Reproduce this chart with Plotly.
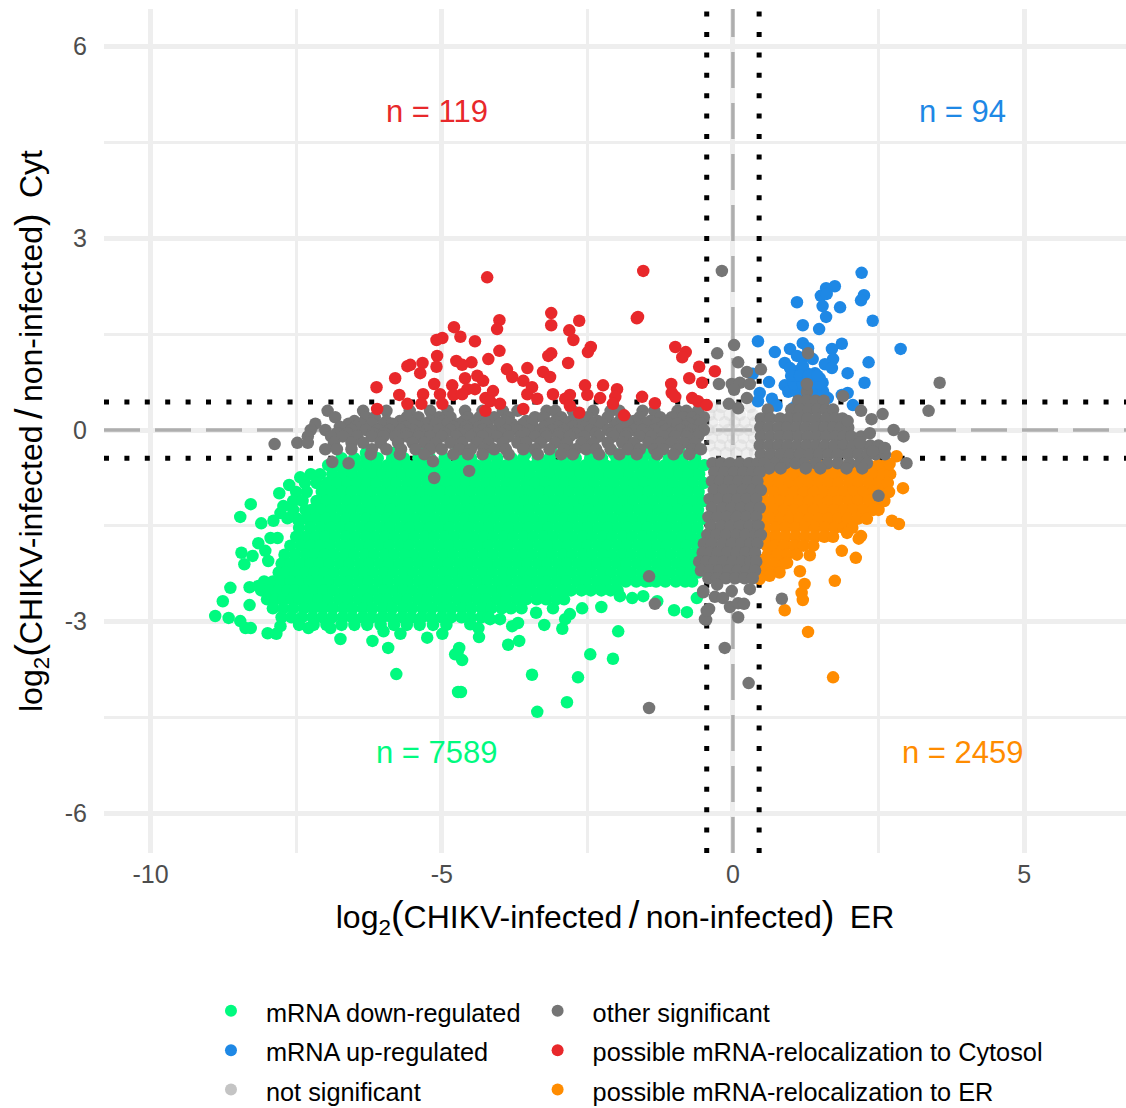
import plotly.graph_objects as go

green_rows = [
(-0.36,[-6.30,-5.85,-5.30,-4.75,-4.20,-3.55,-3.10,-2.45,-2.05,-1.50,-0.90]),
(-0.44,[-6.72,-6.50,-6.30,-6.10,-5.85,-5.65,-5.40,-5.20,-4.95,-4.70,-4.50,-4.25,-4.05,-3.80,-3.60,-3.35,-3.15,-2.90,-2.70,-2.45,-2.25,-2.00,-1.80,-1.55,-1.35,-1.10,-0.90,-0.65]),
(-0.55,[-6.95,-6.79,-6.61,-6.45,-6.27,-6.11,-5.93,-5.77,-5.59,-5.43,-5.25,-5.09,-4.91,-4.75,-4.57,-4.41,-4.23,-4.07,-3.89,-3.73,-3.55,-3.39,-3.21,-3.05,-2.87,-2.71,-2.53,-2.37,-2.19,-2.03,-1.85,-1.69,-1.51,-1.35,-1.17,-1.01,-0.83,-0.67,-0.49]),
(-0.69,[-7.25,-7.09,-6.88,-6.70,-6.54,-6.36,-6.20,-6.02,-5.86,-5.68,-5.52,-5.34,-5.18,-5.00,-4.84,-4.66,-4.50,-4.32,-4.16,-3.98,-3.82,-3.64,-3.48,-3.30,-3.14,-2.96,-2.80,-2.62,-2.46,-2.28,-2.12,-1.94,-1.78,-1.60,-1.44,-1.26,-1.10,-0.92,-0.76,-0.58]),
(-0.83,[-7.35,-7.15,-6.97,-6.80,-6.62,-6.46,-6.28,-6.12,-5.94,-5.78,-5.60,-5.44,-5.26,-5.10,-4.92,-4.76,-4.58,-4.42,-4.24,-4.08,-3.90,-3.74,-3.56,-3.40,-3.22,-3.06,-2.88,-2.72,-2.54,-2.38,-2.20,-2.04,-1.86,-1.70,-1.52,-1.36,-1.18,-1.02,-0.84,-0.68,-0.50]),
(-0.97,[-7.50,-7.32,-7.06,-6.89,-6.71,-6.55,-6.37,-6.21,-6.03,-5.87,-5.69,-5.53,-5.35,-5.19,-5.01,-4.85,-4.67,-4.51,-4.33,-4.17,-3.99,-3.83,-3.65,-3.49,-3.31,-3.15,-2.97,-2.81,-2.63,-2.47,-2.29,-2.13,-1.95,-1.79,-1.61,-1.45,-1.27,-1.11,-0.93,-0.77,-0.59]),
(-1.11,[-7.55,-7.39,-7.15,-6.98,-6.81,-6.63,-6.47,-6.29,-6.13,-5.95,-5.79,-5.61,-5.45,-5.27,-5.11,-4.93,-4.77,-4.59,-4.43,-4.25,-4.09,-3.91,-3.75,-3.57,-3.41,-3.23,-3.07,-2.89,-2.73,-2.55,-2.39,-2.21,-2.05,-1.87,-1.71,-1.53,-1.37,-1.19,-1.03,-0.85,-0.69,-0.51]),
(-1.25,[-7.55,-7.34,-7.24,-7.07,-6.90,-6.72,-6.56,-6.38,-6.22,-6.04,-5.88,-5.70,-5.54,-5.36,-5.20,-5.02,-4.86,-4.68,-4.52,-4.34,-4.18,-4.00,-3.84,-3.66,-3.50,-3.32,-3.16,-2.98,-2.82,-2.64,-2.48,-2.30,-2.14,-1.96,-1.80,-1.62,-1.46,-1.28,-1.12,-0.94,-0.78,-0.60]),
(-1.39,[-7.48,-7.32,-7.16,-6.99,-6.82,-6.64,-6.48,-6.30,-6.14,-5.96,-5.80,-5.62,-5.46,-5.28,-5.12,-4.94,-4.78,-4.60,-4.44,-4.26,-4.10,-3.92,-3.76,-3.58,-3.42,-3.24,-3.08,-2.90,-2.74,-2.56,-2.40,-2.22,-2.06,-1.88,-1.72,-1.54,-1.38,-1.20,-1.04,-0.86,-0.70,-0.52]),
(-1.53,[-7.45,-7.26,-7.08,-6.91,-6.73,-6.57,-6.39,-6.23,-6.05,-5.89,-5.71,-5.55,-5.37,-5.21,-5.03,-4.87,-4.69,-4.53,-4.35,-4.19,-4.01,-3.85,-3.67,-3.51,-3.33,-3.17,-2.99,-2.83,-2.65,-2.49,-2.31,-2.15,-1.97,-1.81,-1.63,-1.47,-1.29,-1.13,-0.95,-0.79,-0.61]),
(-1.67,[-7.50,-7.33,-7.17,-7.00,-6.83,-6.65,-6.49,-6.31,-6.15,-5.97,-5.81,-5.63,-5.47,-5.29,-5.13,-4.95,-4.79,-4.61,-4.45,-4.27,-4.11,-3.93,-3.77,-3.59,-3.43,-3.25,-3.09,-2.91,-2.75,-2.57,-2.41,-2.23,-2.07,-1.89,-1.73,-1.55,-1.39,-1.21,-1.05,-0.87,-0.71,-0.53]),
(-1.81,[-7.60,-7.42,-7.25,-7.09,-6.92,-6.74,-6.58,-6.40,-6.24,-6.06,-5.90,-5.72,-5.56,-5.38,-5.22,-5.04,-4.88,-4.70,-4.54,-4.36,-4.20,-4.02,-3.86,-3.68,-3.52,-3.34,-3.18,-3.00,-2.84,-2.66,-2.50,-2.32,-2.16,-1.98,-1.82,-1.64,-1.48,-1.30,-1.14,-0.96,-0.80,-0.62]),
(-1.95,[-7.70,-7.52,-7.34,-7.18,-7.01,-6.84,-6.66,-6.50,-6.32,-6.16,-5.98,-5.82,-5.64,-5.48,-5.30,-5.14,-4.96,-4.80,-4.62,-4.46,-4.28,-4.12,-3.94,-3.78,-3.60,-3.44,-3.26,-3.10,-2.92,-2.76,-2.58,-2.42,-2.24,-2.08,-1.90,-1.74,-1.56,-1.40,-1.22,-1.06,-0.88,-0.72,-0.54]),
(-2.09,[-7.75,-7.60,-7.43,-7.26,-7.10,-6.93,-6.75,-6.59,-6.41,-6.25,-6.07,-5.91,-5.73,-5.57,-5.39,-5.23,-5.05,-4.89,-4.71,-4.55,-4.37,-4.21,-4.03,-3.87,-3.69,-3.53,-3.35,-3.19,-3.01,-2.85,-2.67,-2.51,-2.33,-2.17,-1.99,-1.83,-1.65,-1.49,-1.31,-1.15,-0.97,-0.81,-0.63]),
(-2.23,[-7.80,-7.68,-7.51,-7.35,-7.19,-7.02,-6.85,-6.67,-6.51,-6.33,-6.17,-5.99,-5.83,-5.65,-5.49,-5.31,-5.15,-4.97,-4.81,-4.63,-4.47,-4.29,-4.13,-3.95,-3.79,-3.61,-3.45,-3.27,-3.11,-2.93,-2.77,-2.59,-2.43,-2.25,-2.09,-1.91,-1.75,-1.57,-1.41,-1.23,-1.07,-0.89,-0.73,-0.60]),
(-2.37,[-8.05,-7.90,-7.76,-7.60,-7.44,-7.27,-7.11,-6.94,-6.76,-6.60,-6.42,-6.26,-6.08,-5.92,-5.74,-5.58,-5.40,-5.24,-5.06,-4.90,-4.72,-4.56,-4.38,-4.22,-4.04,-3.88,-3.70,-3.54,-3.36,-3.20,-3.02,-2.86,-2.68,-2.52,-2.34,-2.18,-2.00,-1.84,-1.66,-1.50,-1.32,-1.16,-0.98,-0.82,-0.70]),
(-2.51,[-8.10,-7.95,-7.80,-7.65,-7.52,-7.36,-7.20,-7.03,-6.86,-6.68,-6.52,-6.34,-6.18,-6.00,-5.84,-5.66,-5.50,-5.32,-5.16,-4.98,-4.82,-4.64,-4.48,-4.30,-4.14,-3.96,-3.80,-3.62,-3.46,-3.28,-3.12,-2.94,-2.78,-2.60,-2.44,-2.26,-2.10,-1.98]),
(-2.65,[-8.00,-7.85,-7.72,-7.58,-7.45,-7.28,-7.12,-6.95,-6.77,-6.61,-6.43,-6.27,-6.09,-5.93,-5.75,-5.59,-5.41,-5.25,-5.07,-4.91,-4.73,-4.57,-4.39,-4.23,-4.05,-3.89,-3.71,-3.55,-3.37,-3.21,-3.03,-2.90]),
(-2.79,[-7.90,-7.72,-7.55,-7.37,-7.21,-7.04,-6.87,-6.69,-6.53,-6.35,-6.19,-6.01,-5.85,-5.67,-5.51,-5.33,-5.17,-4.99,-4.83,-4.65,-4.49,-4.31,-4.15,-3.97,-3.81,-3.63]),
(-2.93,[-7.75,-7.58,-7.40,-7.22,-7.05,-6.88,-6.70,-6.54,-6.36,-6.20,-6.02,-5.86,-5.68,-5.52,-5.34,-5.18,-5.00,-4.84,-4.66,-4.50,-4.32,-4.20]),
(-3.05,[-7.45,-7.20,-6.98,-6.72,-6.50,-6.28,-6.05,-5.82,-5.60,-5.38,-5.15,-4.92]),
]
green_x = [-8.28,-8.46,-8.10,-7.89,-7.79,-7.62,-7.43,-7.72,-7.77,-7.65,-7.94,-7.82,-8.15,-8.44,-8.25,-8.39,-8.03,-7.98,-8.63,-8.76,-8.30,-8.89,-8.66,-8.46,-8.37,-8.28,-8.30,-8.15,-7.99,-7.84,-7.77,-7.29,-6.74,-6.91,-6.19,-5.92,-5.78,-6.00,-5.71,-5.25,-4.99,-4.73,-4.72,-4.70,-4.77,-4.65,-4.67,-4.36,-3.86,-3.67,-3.45,-3.36,-2.85,-2.66,-2.45,-2.06,-1.97,-3.24,-2.93,-3.79,-3.69,-3.38,-2.88,-2.80,-2.59,-2.26,-3.09,-4.37,-4.51,-1.42,-1.30,-1.01,-0.79,-0.62,-1.94,-1.73,-1.54,-4.00,-4.17]
green_y = [-1.16,-1.36,-1.46,-1.42,-0.99,-0.86,-0.74,-1.19,-1.30,-1.38,-1.69,-1.69,-1.77,-1.92,-1.97,-2.10,-1.89,-2.05,-2.47,-2.68,-2.74,-2.91,-2.94,-2.99,-3.10,-3.10,-2.46,-2.44,-3.18,-3.19,-3.07,-3.10,-3.27,-3.10,-3.30,-3.41,-3.82,-3.15,-3.19,-3.25,-3.19,-3.49,-4.10,-3.41,-3.51,-3.60,-4.10,-3.24,-3.36,-3.30,-3.83,-4.41,-4.26,-3.87,-3.51,-3.58,-3.15,-3.05,-3.11,-3.07,-3.02,-2.86,-2.96,-2.88,-2.79,-2.77,-2.79,-3.10,-3.04,-2.36,-2.68,-2.82,-2.85,-2.63,-2.60,-2.63,-2.60,-2.96,-2.96]

orange_rows = [
(-0.41,[2.81]),
(-0.55,[0.46,0.63,0.79,0.97,1.13,1.31,1.47,1.65,1.81,1.99,2.15,2.33,2.49,2.62]),
(-0.69,[0.52,0.70,0.87,1.05,1.22,1.39,1.56,1.73,1.90,2.07,2.24,2.41,2.58,2.70]),
(-0.83,[0.46,0.62,0.79,0.97,1.13,1.31,1.47,1.65,1.81,1.99,2.15,2.33,2.49,2.66]),
(-0.97,[0.52,0.70,0.87,1.05,1.22,1.39,1.56,1.73,1.90,2.07,2.24,2.41,2.58,2.68]),
(-1.11,[0.50,0.64,0.80,0.97,1.13,1.31,1.47,1.65,1.81,1.99,2.15,2.33,2.49,2.60]),
(-1.25,[0.54,0.71,0.88,1.05,1.22,1.39,1.56,1.73,1.90,2.07,2.24,2.41,2.50]),
(-1.39,[0.52,0.66,0.82,0.98,1.14,1.31,1.47,1.64,1.81,1.97,2.14,2.30]),
(-1.53,[0.55,0.73,0.90,1.07,1.24,1.41,1.58,1.75,1.90,2.05]),
(-1.67,[0.60,0.75,0.91,1.08,1.24,1.41,1.57,1.72]),
(-1.81,[0.58,0.72,0.88,1.05,1.21,1.38]),
(-1.95,[0.60,0.76,0.93,1.10]),
(-2.09,[0.55,0.72,0.88]),
(-2.23,[0.50,0.66,0.80]),
]
orange_x = [2.69,2.92,2.85,2.73,2.20,2.16,1.96,1.87,2.11,1.32,1.15,1.75,1.23,1.18,1.20,0.89,1.29,1.72,0.63,0.46,0.46,0.93]
orange_y = [-0.53,-0.91,-1.47,-1.42,-1.66,-1.70,-1.61,-1.89,-2.00,-1.96,-2.21,-2.36,-2.41,-2.55,-2.66,-2.82,-3.16,-3.87,-2.28,-2.33,-2.03,-2.08]

blue_x = [2.21,1.75,1.60,1.51,1.61,1.54,1.60,1.10,1.84,2.25,2.20,2.40,1.20,1.48,2.88,0.43,0.72,0.98,1.20,1.29,1.10,0.89,1.87,1.70,1.37,1.72,1.58,1.70,2.33,1.97,2.26,0.34,0.62,0.89,1.10,1.27,1.49,1.15,1.32,1.54,1.03,0.46,0.43,0.67,0.75,1.63,1.97,1.87,2.06,1.11,1.03,1.20,0.98,1.20,1.41,0.95,1.10,1.25,1.40,1.55,1.05,1.20,1.35,1.50,1.00,1.15,1.30,1.45]
blue_y = [2.46,2.25,2.22,2.10,2.13,1.94,1.77,2.00,1.92,2.11,2.03,1.71,1.64,1.58,1.27,1.39,1.22,1.27,1.36,1.28,1.16,1.05,1.35,1.27,1.11,1.11,1.03,0.97,1.06,0.89,0.74,0.88,0.75,0.70,0.92,0.89,0.81,0.77,0.77,0.74,0.81,0.58,0.45,0.49,0.38,0.50,0.58,0.55,0.39,0.42,0.34,1.13,0.97,1.00,0.89,0.60,0.60,0.60,0.60,0.60,0.72,0.72,0.72,0.72,0.85,0.85,0.85,0.85]

red_x = [-4.22,-4.79,-4.68,-4.99,-5.09,-4.43,-5.08,-5.09,-4.75,-4.49,-4.65,-4.20,-5.33,-5.37,-5.54,-5.59,-5.80,-6.12,-6.11,-5.73,-5.59,-5.32,-5.35,-5.13,-5.03,-4.99,-4.82,-4.80,-4.60,-4.56,-4.43,-4.39,-4.29,-4.25,-4.65,-4.25,-1.54,-1.63,-1.65,-4.01,-4.05,-3.12,-3.12,-2.64,-2.81,-2.74,-2.44,-2.49,-4.01,-3.12,-3.17,-2.83,-0.99,-0.81,-0.87,-0.58,-0.31,-0.75,-0.53,-1.06,-1.05,-0.99,-0.70,-0.60,-0.45,-1.56,-1.34,-1.99,-2.02,-2.06,-1.87,-2.23,-2.28,-2.54,-2.50,-2.80,-3.09,-2.88,-2.80,-2.64,-3.26,-3.14,-3.88,-3.79,-3.53,-3.60,-3.45,-3.53,-3.36,-3.60,-4.12,-4.00,-4.17]
red_y = [2.39,1.61,1.46,1.44,1.41,1.39,1.16,0.99,1.08,1.06,1.02,1.11,1.05,0.89,1.02,1.00,0.81,0.67,0.33,0.55,0.41,0.56,0.41,0.72,0.56,0.41,0.70,0.55,0.81,0.64,0.64,0.85,0.77,0.50,0.56,0.30,2.49,1.77,1.75,1.72,1.58,1.83,1.64,1.71,1.56,1.41,1.30,1.22,1.24,1.20,1.16,1.05,1.30,1.22,1.14,0.99,0.92,0.81,0.74,0.72,0.58,0.52,0.50,0.45,0.39,0.52,0.42,0.64,0.52,0.41,0.23,0.70,0.50,0.70,0.55,0.55,0.56,0.49,0.38,0.27,0.91,0.83,0.95,0.83,0.97,0.77,0.67,0.56,0.49,0.33,0.61,0.41,0.45]

gray_rows = [
(0.60,[1.27]),
(0.46,[1.12,1.27,1.42,1.56]),
(0.32,[0.60,1.00,1.15,1.30,1.45,1.60,1.72]),
(0.30,[-6.96,-6.35,-5.95,-5.55,-5.20,-4.90,-4.60,-4.30,-3.95,-3.70,-3.20,-3.05,-2.75,-2.40,-2.10,-1.95,-1.55,-1.35,-0.95,-0.80,-0.60]),
(0.20,[-6.83,-6.30,-6.15,-5.60,-5.40,-5.05,-4.85,-4.55,-4.35,-4.10,-3.85,-3.40,-3.25,-2.95,-2.70,-2.50,-2.15,-1.85,-1.60,-1.25,-1.05,-0.85,-0.70,-0.50]),
(0.18,[0.48,0.64,0.81,0.96,1.12,1.28,1.44,1.60,1.76,1.88]),
(0.14,[-6.50,-5.95,-5.72,-5.20,-4.98,-4.62,-4.20,-3.92,-3.55,-3.05,-2.78,-2.32,-1.95,-1.70,-1.42,-1.15,-0.62]),
(0.10,[-7.17,-6.60,-6.40,-6.20,-6.00,-5.85,-5.50,-5.30,-5.10,-4.90,-4.70,-4.45,-4.25,-4.00,-3.80,-3.60,-3.45,-3.15,-2.85,-2.60,-2.40,-2.25,-2.00,-1.80,-1.50,-1.30,-1.10,-0.95,-0.75,-0.55]),
(0.04,[0.47,0.62,0.78,0.93,1.09,1.25,1.41,1.57,1.72,1.86,1.98]),
(0.05,[-6.75,-6.48,-5.62,-5.40,-4.80,-4.58,-4.35,-3.72,-3.25,-3.00,-2.75,-2.55,-2.05,-1.62,-1.22,-0.82]),
(0.00,[-7.25,-7.00,-6.55,-6.30,-6.10,-5.90,-5.70,-5.50,-5.25,-5.05,-4.85,-4.55,-4.30,-4.15,-3.90,-3.70,-3.50,-3.30,-3.10,-2.90,-2.65,-2.45,-2.15,-1.95,-1.70,-1.55,-1.35,-1.15,-0.90,-0.70,-0.50,2.76]),
(-0.05,[-6.80,-6.62,-6.18,-5.98,-5.62,-5.38,-4.95,-4.68,-4.42,-4.22,-3.98,-3.58,-3.22,-2.98,-2.72,-2.35,-2.08,-1.82,-1.45,-1.05,-0.78,-0.58]),
(-0.10,[-7.30,-6.90,-6.70,-6.45,-6.20,-6.00,-5.80,-5.60,-5.40,-5.20,-5.00,-4.75,-4.50,-4.30,-4.05,-3.85,-3.65,-3.40,-3.20,-3.00,-2.80,-2.55,-2.30,-2.05,-1.85,-1.60,-1.40,-1.20,-1.00,-0.80,-0.60,0.48,0.64,0.80,0.96,1.12,1.28,1.44,1.60,1.76,1.90,2.03,2.20,2.93]),
(-0.20,[-7.48,-7.30,-6.85,-6.55,-6.35,-6.05,-5.75,-5.50,-5.30,-5.10,-4.85,-4.65,-4.40,-4.20,-3.95,-3.70,-3.55,-3.30,-3.05,-2.85,-2.60,-2.40,-2.15,-1.90,-1.70,-1.45,-1.25,-1.05,-0.85,-0.65]),
(-0.24,[0.46,0.62,0.78,0.94,1.10,1.26,1.42,1.58,1.74,1.90,2.06,2.20,2.36,2.50]),
(-0.30,[-7.00,-6.80,-6.55,-6.20,-5.95,-5.70,-5.45,-5.20,-5.00,-4.70,-4.50,-4.28,-4.10,-3.90,-3.60,-3.40,-3.15,-2.90,-2.70,-2.52,-2.35,-2.10,-1.80,-1.60,-1.35,-1.20,-0.95,-0.70,-0.55]),
(-0.38,[-6.22,-5.72,-5.30,-4.80,-4.55,-4.30,-3.85,-3.35,-2.95,-2.75,-2.30,-1.95,-1.65,-1.30,-1.02,-0.75,0.48,0.65,0.82,0.98,1.15,1.32,1.48,1.64,1.80,1.98,2.15,2.32,2.45,2.61]),
(-0.52,[-0.35,-0.20,-0.05,0.12,0.28,0.42,0.54,0.72,0.90,1.08,1.22,1.42,1.62,1.80,2.00,2.18,2.30,2.98]),
(-0.60,[0.62,0.82,1.25,1.50,1.95,2.22]),
(-0.66,[-0.32,-0.15,0.02,0.18,0.34,0.46]),
(-0.80,[-0.36,-0.22,-0.06,0.10,0.26,0.42]),
(-0.94,[-0.33,-0.16,0.00,0.17,0.33,0.48]),
(-1.08,[-0.40,-0.24,-0.08,0.08,0.24,0.40]),
(-1.22,[-0.36,-0.18,-0.02,0.14,0.30,0.46]),
(-1.36,[-0.42,-0.26,-0.10,0.07,0.23,0.40]),
(-1.50,[-0.38,-0.20,-0.04,0.12,0.29,0.44]),
(-1.64,[-0.44,-0.28,-0.12,0.06,0.22,0.38,0.48]),
(-1.78,[-0.50,-0.36,-0.18,-0.02,0.14,0.30,0.42]),
(-1.92,[-0.52,-0.40,-0.26,-0.10,0.06,0.22,0.38]),
(-2.06,[-0.58,-0.46,-0.32,-0.16,0.00,0.16,0.30,0.40]),
(-2.20,[-0.55,-0.40,-0.24,-0.08,0.08,0.24,0.38]),
(-2.32,[-0.42,-0.28,-0.12,0.04,0.20,0.34]),
]
gray_x = [-0.19,0.02,-0.27,0.09,0.24,0.48,-0.24,-0.02,0.12,0.29,0.02,-0.07,0.09,0.24,1.29,3.55,3.36,2.57,2.20,2.38,1.97,2.35,2.61,2.18,2.40,1.27,1.89,2.50,0.84,-0.14,0.27,0.09,-0.46,-0.41,-0.51,-0.27,-0.31,-0.17,-0.05,0.09,0.19,0.29,-0.02,-1.44,-1.34,-1.44,-0.51,-0.48,-0.45,-6.88,-6.60,-7.87,-4.53,-5.13,-5.15]
gray_y = [2.49,1.33,1.20,1.06,0.91,0.95,0.72,0.72,0.74,0.72,0.63,0.41,0.34,0.50,1.20,0.74,0.30,0.25,0.30,0.17,0.14,-0.05,-0.28,-0.20,-0.33,0.72,0.53,-1.03,-2.64,-3.41,-3.96,-2.93,-2.97,-2.80,-2.54,-2.42,-2.61,-2.63,-2.77,-2.71,-2.72,-2.49,-2.52,-4.35,-2.72,-2.29,-2.52,-2.96,-2.83,-0.50,-0.52,-0.22,-0.64,-0.75,-0.49]

light_rows = [
(0.36,[-0.36,-0.20,0.05,0.30]),
(0.24,[-0.40,-0.24,-0.06,0.12,0.34]),
(0.12,[-0.36,-0.14,0.03,0.20,0.38]),
(0.00,[-0.42,-0.26,-0.08,0.10,0.28]),
(-0.12,[-0.36,-0.18,0.00,0.18,0.36]),
(-0.24,[-0.40,-0.22,-0.05,0.14,0.32]),
(-0.36,[-0.30,-0.12,0.06,0.24,0.38]),
]

x_ticks = [-10,-5,0,5]
x_minor = [-7.5,-2.5,2.5]
y_ticks = [6,3,0,-3,-6]
y_minor = [4.5,1.5,-1.5,-4.5]
x_range = [-10.8,6.75]
y_range = [-6.62,6.59]
x_cut = 0.45
y_cut = 0.44

group_names = ["mRNA down-regulated","other significant","mRNA up-regulated",
               "possible mRNA-relocalization to Cytosol","not significant","possible mRNA-relocalization to ER"]
count_labels = ["n = 119","n = 94","n = 7589","n = 2459"]
count_x = [-5.08,3.95,-5.08,3.95]
count_y = [4.98,4.98,-5.05,-5.05]

GREEN,GRAY,BLUE,RED,LIGHT,ORANGE = "#00FA7F","#757575","#1E88E5","#E8282B","#C4C4C4","#FF8C00"
count_colors = [RED,BLUE,GREEN,ORANGE]

def expand(rows, xs=(), ys=()):
    ox = [x for _,r in rows for x in r] + list(xs)
    oy = [y for y,r in rows for _ in r] + list(ys)
    return ox, oy

def legend_name(s):
    return f'<span style="font-size:25.3px">{s}</span>'

fig = go.Figure()
def add(rows, xs, ys, color, rank, name, legend):
    ox, oy = expand(rows, xs, ys)
    fig.add_trace(go.Scatter(x=ox,y=oy,mode="markers",name=legend_name(name),legend=legend,
        marker=dict(size=12.5,color=color,line=dict(width=0)),legendrank=rank,hoverinfo="skip"))

# the not-significant cloud is drawn pale, as in the reference; its legend key keeps the full grey
light_x, light_y = expand(light_rows)
fig.add_trace(go.Scatter(x=light_x,y=light_y,mode="markers",showlegend=False,hoverinfo="skip",
    marker=dict(size=12.5,color=LIGHT,opacity=0.28,line=dict(width=0))))
fig.add_trace(go.Scatter(x=[None],y=[None],mode="markers",name=legend_name(group_names[4]),legend="legend",legendrank=3,
    marker=dict(size=12.5,color=LIGHT,line=dict(width=0)),hoverinfo="skip"))
add(green_rows,green_x,green_y,GREEN,1,group_names[0],"legend")
add(orange_rows,orange_x,orange_y,ORANGE,3,group_names[5],"legend2")
add([],blue_x,blue_y,BLUE,2,group_names[2],"legend")
add(gray_rows,gray_x,gray_y,GRAY,1,group_names[1],"legend2")
add([],red_x,red_y,RED,2,group_names[3],"legend2")

def ln(x0,y0,x1,y1,color,width,dash):
    fig.add_shape(type="line",xref="x",yref="y",x0=x0,y0=y0,x1=x1,y1=y1,layer="between",
                  line=dict(color=color,width=width,dash=dash))
ln(x_range[0],0,x_range[1],0,"#AEAEAE",3.5,"36px,15px")
ln(0,y_range[0],0,y_range[1],"#AEAEAE",3.5,"36px,15px")
for c in (-x_cut,x_cut):
    ln(c,y_range[0],c,y_range[1],"black",5,"5px,15.4px")
for c in (-y_cut,y_cut):
    ln(x_range[0],c,x_range[1],c,"black",5,"5px,15.4px")

for t,x,y,c in zip(count_labels,count_x,count_y,count_colors):
    fig.add_annotation(x=x,y=y,text=t,showarrow=False,font=dict(size=31,color=c,family="Liberation Sans"))

B = '<span style="font-size:38px">%s</span>'
def title(s):
    return f'log<sub>2</sub>{B%"("}CHIKV-infected\u2009{B%"/"}\u2009non-infected{B%")"}\u2009 {s}'

GRID = "#EEEEEE"
fig.update_xaxes(range=x_range,tickvals=x_ticks,ticktext=[str(t) for t in x_ticks],showgrid=True,gridcolor=GRID,gridwidth=5,
    zeroline=False,showline=False,ticks="",minor=dict(tickvals=x_minor,showgrid=True,gridcolor=GRID,gridwidth=2.5,ticks=""),
    tickfont=dict(size=25,color="#4D4D4D",family="Liberation Sans"),ticklabelstandoff=4,
    title=dict(text=title("ER"),font=dict(size=32,color="black",family="Liberation Sans"),standoff=18))
fig.update_yaxes(range=y_range,tickvals=y_ticks,ticktext=[str(t) for t in y_ticks],showgrid=True,gridcolor=GRID,gridwidth=5,
    zeroline=False,showline=False,ticks="",minor=dict(tickvals=y_minor,showgrid=True,gridcolor=GRID,gridwidth=2.5,ticks=""),
    tickfont=dict(size=25,color="#4D4D4D",family="Liberation Sans"),ticklabelstandoff=16,
    title=dict(text=title("Cyt"),font=dict(size=32,color="black",family="Liberation Sans"),standoff=12))
legend_common = dict(orientation="v",xanchor="left",y=-0.1577,yanchor="top",font=dict(size=28,color="black"),
                     itemwidth=60,itemsizing="constant",itemclick=False,itemdoubleclick=False)
fig.update_layout(width=1126,height=1108,margin=dict(l=103.5,r=0,t=9,b=255,autoexpand=False),
    paper_bgcolor="white",plot_bgcolor="white",font=dict(family="Liberation Sans"),
    legend=dict(x=0.09,**legend_common),legend2=dict(x=0.4096,**legend_common),
    showlegend=True)
fig.write_html("out.html",post_script="document.body.style.margin='0';document.documentElement.style.overflow='hidden';",config={"displayModeBar":False})
